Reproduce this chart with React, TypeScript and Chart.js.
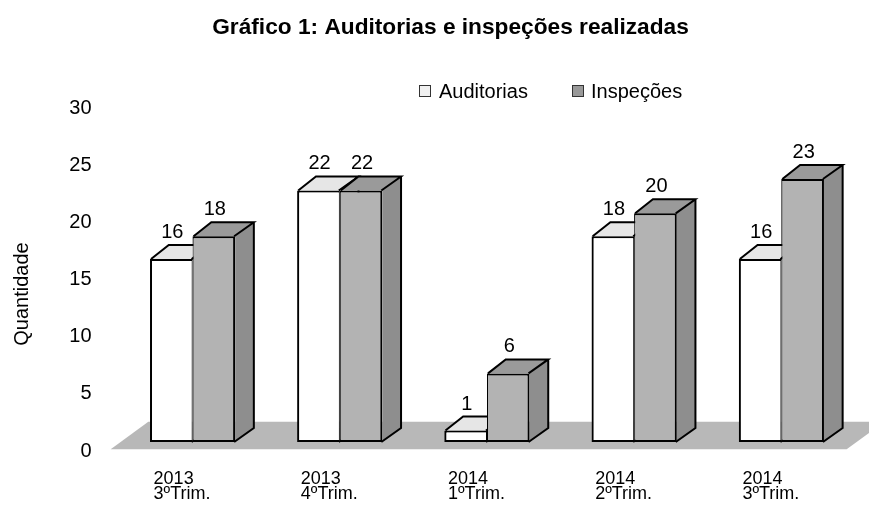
import React, { useEffect, useRef } from "react";
import { Chart, registerables } from "chart.js";

Chart.register(...registerables);

// ---- data ----
const categories: string[][] = [
  ["2013", "3ºTrim."],
  ["2013", "4ºTrim."],
  ["2014", "1ºTrim."],
  ["2014", "2ºTrim."],
  ["2014", "3ºTrim."],
];
const auditorias = [16, 22, 1, 18, 16];
const inspecoes = [18, 22, 6, 20, 23];
const seriesNames = ["Auditorias", "Inspeções"];
const yTicks = [0, 5, 10, 15, 20, 25, 30];
const titleText = "Gráfico 1: Auditorias e inspeções realizadas";
const yAxisTitle = "Quantidade";

// ---- styles ----
const FONT = "'Liberation Sans', Arial, sans-serif";
const DX = 18.7;
const DY = 14;
const FACES = [
  { front: "#ffffff", top: "#e6e6e6", side: "#d0d0d0", legend: "#f0f0f0" },
  { front: "#b3b3b3", top: "#9a9a9a", side: "#8e8e8e", legend: "#999999" },
];
const FLOOR = "#b8b8b8";

function drawFaces(ctx: CanvasRenderingContext2D, bar: any, faces: any) {
  const { x, y, base, width } = bar.getProps(["x", "y", "base", "width"], true);
  const x0 = x - width / 2;
  const x1 = x + width / 2;
  ctx.save();
  ctx.lineWidth = 2;
  ctx.strokeStyle = "#000";
  // top face
  ctx.fillStyle = faces.top;
  ctx.beginPath();
  ctx.moveTo(x0, y);
  ctx.lineTo(x1, y);
  ctx.lineTo(x1 + DX, y - DY);
  ctx.lineTo(x0 + DX, y - DY);
  ctx.closePath();
  ctx.fill();
  // side face
  ctx.fillStyle = faces.side;
  ctx.beginPath();
  ctx.moveTo(x1, y);
  ctx.lineTo(x1 + DX, y - DY);
  ctx.lineTo(x1 + DX, base - DY);
  ctx.lineTo(x1, base);
  ctx.closePath();
  ctx.fill();
  // outlines
  ctx.beginPath();
  ctx.moveTo(x0 + 1, y);
  ctx.lineTo(x0 + DX, y - DY);
  ctx.lineTo(x1 + DX, y - DY);
  ctx.lineTo(x1 - 1, y);
  ctx.moveTo(x1 + DX, y - DY);
  ctx.lineTo(x1 + DX, base - DY);
  ctx.lineTo(x1 - 1, base);
  ctx.stroke();
  ctx.restore();
}

const bar3d = {
  id: "bar3d",
  beforeDatasetsDraw(chart: any) {
    const { ctx, chartArea } = chart;
    const base = chart.scales.y.getPixelForValue(0);
    const fx0 = chartArea.left - 8.3;
    const fx1 = chartArea.right - 8.3;
    const fy = base + 7.3;
    const by = base - 20.3;
    const sx = 37.6;
    ctx.save();
    ctx.fillStyle = FLOOR;
    ctx.beginPath();
    ctx.moveTo(fx0, fy);
    ctx.lineTo(fx1, fy);
    ctx.lineTo(fx1 + sx, by);
    ctx.lineTo(fx0 + sx, by);
    ctx.closePath();
    ctx.fill();
    ctx.restore();
  },
  afterDatasetsDraw(chart: any) {
    const { ctx } = chart;
    // redraw bars in series order so each later bar covers the earlier one's side
    chart.data.datasets.forEach((ds: any, di: number) => {
      const meta = chart.getDatasetMeta(di);
      meta.data.forEach((bar: any) => {
        bar.draw(ctx, chart.chartArea);
        drawFaces(ctx, bar, FACES[di]);
      });
    });
    ctx.save();
    ctx.fillStyle = "#000";
    ctx.font = `20px ${FONT}`;
    ctx.textAlign = "center";
    ctx.textBaseline = "alphabetic";
    chart.data.datasets.forEach((ds: any, di: number) => {
      const meta = chart.getDatasetMeta(di);
      meta.data.forEach((bar: any, i: number) => {
        const { x, y } = bar.getProps(["x", "y"], true);
        ctx.fillText(String(ds.data[i]), x + 1, y - DY - 7);
      });
    });
    ctx.restore();
  },
  afterDraw(chart: any) {
    const { ctx } = chart;
    ctx.save();
    ctx.fillStyle = "#000";
    // title
    ctx.font = `bold 22.7px ${FONT}`;
    ctx.textAlign = "center";
    ctx.textBaseline = "alphabetic";
    ctx.fillText(titleText, 450.5, 34);
    // legend
    ctx.font = `20px ${FONT}`;
    ctx.textAlign = "left";
    const legendItems = [
      { box: 419.5, text: 439 },
      { box: 572.5, text: 591 },
    ];
    chart.data.datasets.forEach((ds: any, i: number) => {
      const li = legendItems[i];
      ctx.fillStyle = FACES[i].legend;
      ctx.fillRect(li.box, 85.5, 11, 11);
      ctx.strokeStyle = "#333";
      ctx.lineWidth = 1;
      ctx.strokeRect(li.box, 85.5, 11, 11);
      ctx.fillStyle = "#000";
      ctx.fillText(ds.label, li.text, 97.5);
    });
    // y axis title
    ctx.translate(28, 294);
    ctx.rotate(-Math.PI / 2);
    ctx.textAlign = "center";
    ctx.font = `20px ${FONT}`;
    ctx.fillText(yAxisTitle, 0, 0);
    ctx.restore();
  },
};

export default function App() {
  const ref = useRef<HTMLCanvasElement>(null);
  useEffect(() => {
    document.body.style.margin = "0";
    Chart.defaults.font.family = FONT;
    const chart = new Chart(ref.current as HTMLCanvasElement, {
      type: "bar",
      data: {
        labels: categories,
        datasets: [
          {
            label: seriesNames[0],
            data: auditorias,
            backgroundColor: FACES[0].front,
            borderColor: "#000",
            borderWidth: { left: 2, top: 2, bottom: 2, right: 1 },
            borderSkipped: false,
            categoryPercentage: 0.578,
            barPercentage: 1,
          },
          {
            label: seriesNames[1],
            data: inspecoes,
            backgroundColor: FACES[1].front,
            borderColor: "#000",
            borderWidth: { left: 1, top: 2, bottom: 2, right: 2 },
            borderSkipped: false,
            categoryPercentage: 0.578,
            barPercentage: 1,
          },
        ],
      },
      options: {
        responsive: false,
        devicePixelRatio: 1,
        animation: false,
        events: [],
        layout: { padding: { left: 0, right: 14, top: 99, bottom: 0 } },
        plugins: {
          legend: { display: false },
          title: { display: false },
          tooltip: { enabled: false },
        },
        scales: {
          x: {
            grid: { display: false, drawTicks: false },
            border: { display: false },
            ticks: {
              align: "start",
              labelOffset: -39,
              padding: 29.4,
              maxRotation: 0,
              autoSkip: false,
              color: "#000",
              font: { size: 18, lineHeight: "14.8px" },
            },
            afterFit: (s: any) => {
              s.height = 65;
              s.paddingLeft = 0;
              s.paddingRight = 0;
            },
          },
          y: {
            min: 0,
            max: 30,
            grid: { display: false, drawTicks: false },
            border: { display: false },
            ticks: {
              padding: 27.5,
              labelOffset: 9,
              color: "#000",
              font: { size: 20 },
            },
            afterBuildTicks: (s: any) => {
              s.ticks = yTicks.map((v) => ({ value: v }));
            },
            afterFit: (s: any) => {
              s.width = 119;
            },
          },
        },
      },
      plugins: [bar3d],
    } as any);
    return () => chart.destroy();
  }, []);
  return (
    <div style={{ width: 869, height: 507, background: "#fff" }}>
      <canvas ref={ref} width={869} height={507} style={{ display: "block", width: 869, height: 507 }} />
    </div>
  );
}
